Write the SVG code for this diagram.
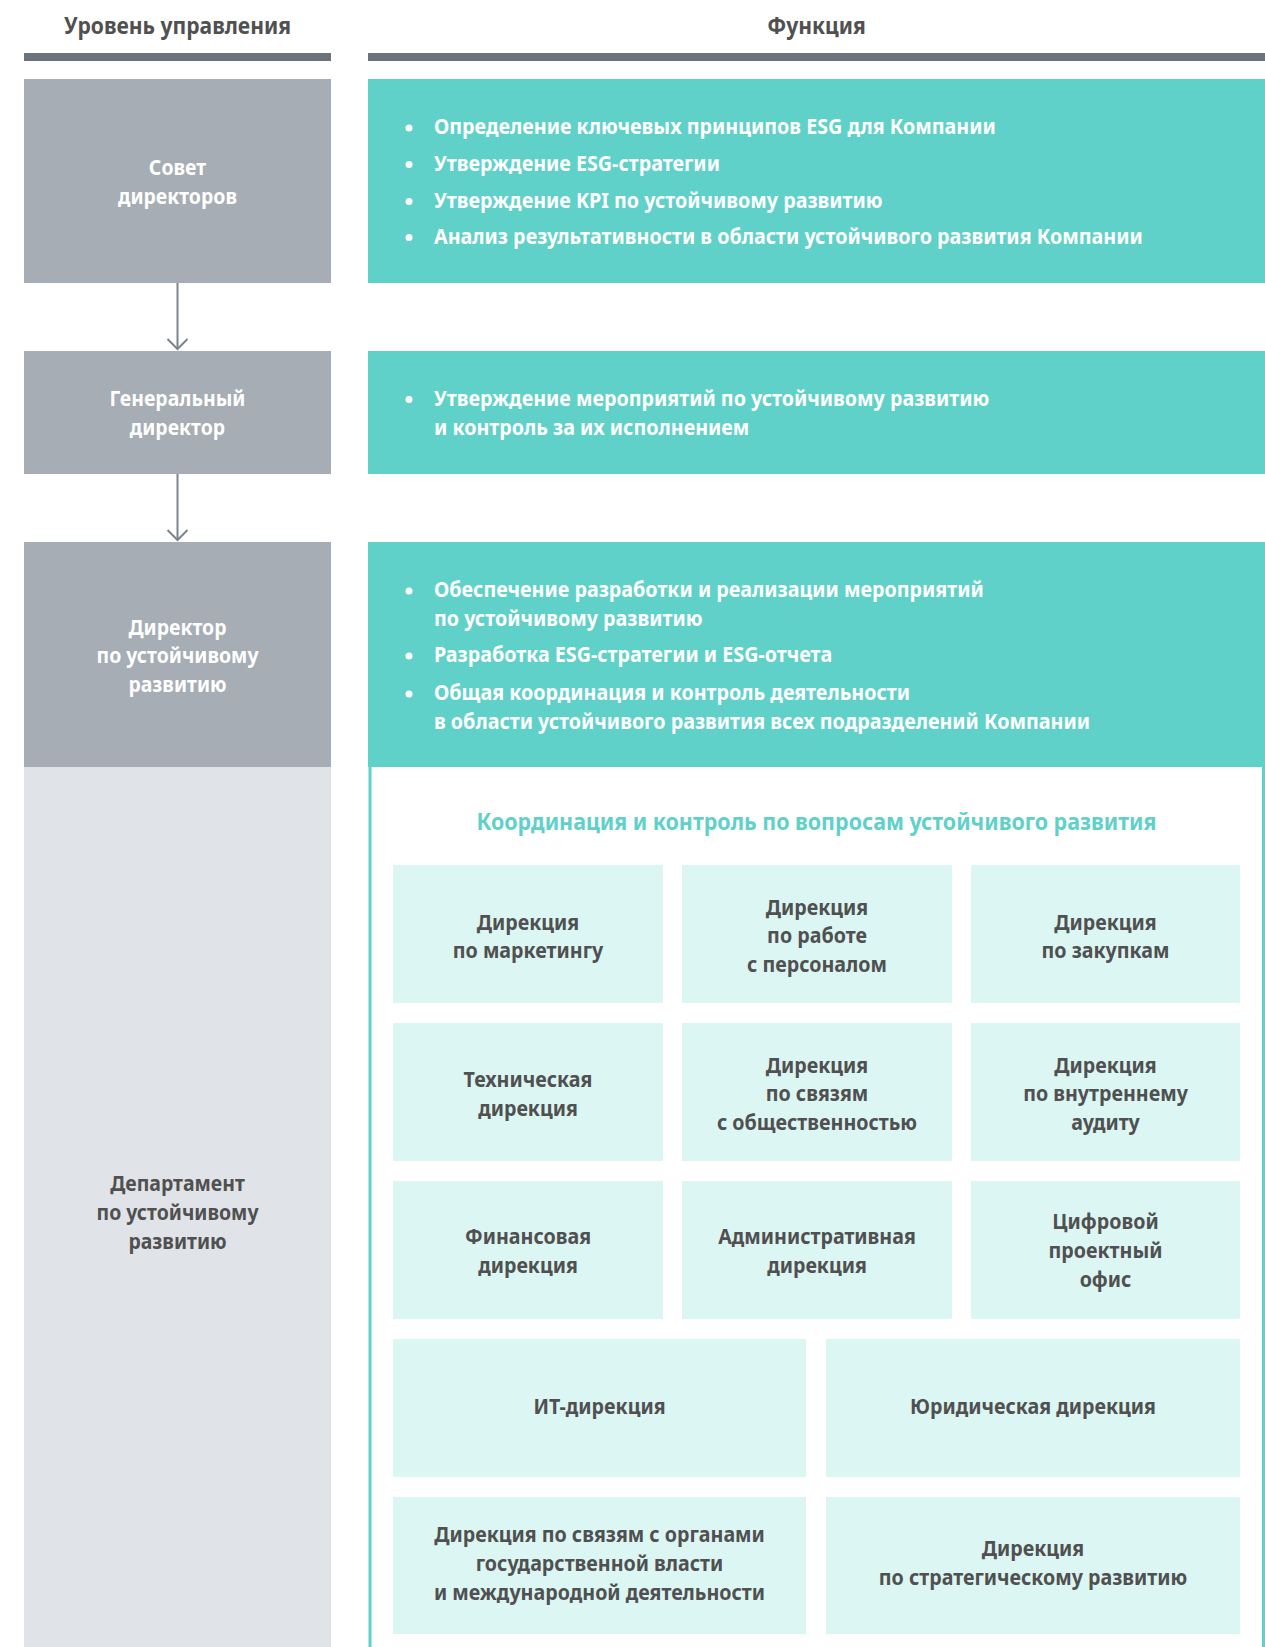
<svg xmlns="http://www.w3.org/2000/svg" width="1265" height="1647" viewBox="0 0 1265 1647">
<defs>
<style>
text{font-family:"Noto Sans","Open Sans",sans-serif;font-weight:700}
.hd{font-size:23px;fill:#505050;text-anchor:middle}
.bar{fill:#6b737c}
.lvl{fill:#a6adb4}
.fn{fill:#5fd1c9}
.lt{font-size:20.5px;fill:#ffffff;text-anchor:middle}
.ld{font-size:20.5px;fill:#505050;text-anchor:middle}
.bl{font-size:22px;fill:#ffffff}
.dot{fill:#ffffff}
.sub{fill:#dcf6f3}
.st{font-size:21px;fill:#505050;text-anchor:middle}
.sh{font-size:23px;fill:#5fd1c9;text-anchor:middle}
.arr{stroke:#7b848c;stroke-width:2;fill:none}
</style>
<marker id="ah" markerWidth="14" markerHeight="24" refX="11" refY="11" orient="auto" markerUnits="userSpaceOnUse" viewBox="0 0 14 24">
<path d="M1,1 L11,11 L1,21" fill="none" stroke="#7b848c" stroke-width="2"/>
</marker>
</defs>
<rect width="1265" height="1647" fill="#ffffff"/>

<g id="header">
<rect class="bar" x="24" y="53" width="307" height="8"/>
<rect class="bar" x="368" y="53" width="897" height="8"/>
<g transform="translate(177.5 0) scale(0.917 1)"><text class="hd" x="0" y="34.5">Уровень управления</text></g>
<g transform="translate(816.5 0) scale(0.917 1)"><text class="hd" x="0" y="34.5">Функция</text></g>
</g>

<g id="level-board">
<rect class="lvl" x="24" y="79" width="307" height="204"/>
<g transform="translate(177.5 0) scale(0.95 1)">
<text class="lt" x="0" y="175">Совет</text>
<text class="lt" x="0" y="204">директоров</text>
</g>
</g>
<g id="func-board">
<rect class="fn" x="368" y="79" width="897" height="204"/>
<circle class="dot" cx="409" cy="128" r="3.5"/>
<circle class="dot" cx="409" cy="164.5" r="3.5"/>
<circle class="dot" cx="409" cy="201.5" r="3.5"/>
<circle class="dot" cx="409" cy="237.5" r="3.5"/>
<g transform="translate(434 0) scale(0.896 1)">
<text class="bl" x="0" y="134.5">Определение ключевых принципов ESG для Компании</text>
<text class="bl" x="0" y="171">Утверждение ESG-стратегии</text>
<text class="bl" x="0" y="208">Утверждение KPI по устойчивому развитию</text>
<text class="bl" x="0" y="244">Анализ результативности в области устойчивого развития Компании</text>
</g>
</g>

<g id="level-ceo">
<rect class="lvl" x="24" y="351" width="307" height="123"/>
<g transform="translate(177.5 0) scale(0.95 1)">
<text class="lt" x="0" y="406">Генеральный</text>
<text class="lt" x="0" y="435">директор</text>
</g>
</g>
<g id="func-ceo">
<rect class="fn" x="368" y="351" width="897" height="123"/>
<circle class="dot" cx="409" cy="399.5" r="3.5"/>
<g transform="translate(434 0) scale(0.896 1)">
<text class="bl" x="0" y="406">Утверждение мероприятий по устойчивому развитию</text>
<text class="bl" x="0" y="435">и контроль за их исполнением</text>
</g>
</g>

<g id="level-director">
<rect class="lvl" x="24" y="542" width="307" height="225"/>
<g transform="translate(177.5 0) scale(0.95 1)">
<text class="lt" x="0" y="635">Директор</text>
<text class="lt" x="0" y="663.5">по устойчивому</text>
<text class="lt" x="0" y="692">развитию</text>
</g>
</g>
<g id="func-director">
<rect class="fn" x="368" y="542" width="897" height="225"/>
<circle class="dot" cx="409" cy="591" r="3.5"/>
<circle class="dot" cx="409" cy="656" r="3.5"/>
<circle class="dot" cx="409" cy="694" r="3.5"/>
<g transform="translate(434 0) scale(0.896 1)">
<text class="bl" x="0" y="597.5">Обеспечение разработки и реализации мероприятий</text>
<text class="bl" x="0" y="626">по устойчивому развитию</text>
<text class="bl" x="0" y="662.5">Разработка ESG-стратегии и ESG-отчета</text>
<text class="bl" x="0" y="700.5">Общая координация и контроль деятельности</text>
<text class="bl" x="0" y="729">в области устойчивого развития всех подразделений Компании</text>
</g>
</g>

<g id="level-department">
<rect x="24" y="767" width="307" height="880" fill="#e0e3e7"/>
<g transform="translate(177.5 0) scale(0.95 1)">
<text class="ld" x="0" y="1191">Департамент</text>
<text class="ld" x="0" y="1220">по устойчивому</text>
<text class="ld" x="0" y="1249">развитию</text>
</g>
</g>

<g id="func-department">
<rect x="370" y="767" width="893.5" height="880" fill="#ffffff"/>
<line x1="370" y1="767" x2="370" y2="1647" stroke="#5fd1c9" stroke-width="3"/>
<line x1="1263.5" y1="767" x2="1263.5" y2="1647" stroke="#5fd1c9" stroke-width="3"/>
<g transform="translate(816.5 0) scale(0.932 1)"><text class="sh" x="0" y="830">Координация и контроль по вопросам устойчивого развития</text></g>
</g>

<g id="dir-marketing">
<rect class="sub" x="393" y="865" width="270" height="138"/>
<g transform="translate(528 0) scale(0.937 1)">
<text class="st" x="0" y="930">Дирекция</text>
<text class="st" x="0" y="958.5">по маркетингу</text>
</g>
</g>
<g id="dir-hr">
<rect class="sub" x="682" y="865" width="270" height="138"/>
<g transform="translate(817 0) scale(0.937 1)">
<text class="st" x="0" y="915">Дирекция</text>
<text class="st" x="0" y="943.5">по работе</text>
<text class="st" x="0" y="972">с персоналом</text>
</g>
</g>
<g id="dir-procurement">
<rect class="sub" x="971" y="865" width="269" height="138"/>
<g transform="translate(1105.5 0) scale(0.937 1)">
<text class="st" x="0" y="930">Дирекция</text>
<text class="st" x="0" y="958.5">по закупкам</text>
</g>
</g>

<g id="dir-technical">
<rect class="sub" x="393" y="1023" width="270" height="138"/>
<g transform="translate(528 0) scale(0.937 1)">
<text class="st" x="0" y="1087.5">Техническая</text>
<text class="st" x="0" y="1116">дирекция</text>
</g>
</g>
<g id="dir-pr">
<rect class="sub" x="682" y="1023" width="270" height="138"/>
<g transform="translate(817 0) scale(0.937 1)">
<text class="st" x="0" y="1073">Дирекция</text>
<text class="st" x="0" y="1101.5">по связям</text>
<text class="st" x="0" y="1130">с общественностью</text>
</g>
</g>
<g id="dir-audit">
<rect class="sub" x="971" y="1023" width="269" height="138"/>
<g transform="translate(1105.5 0) scale(0.937 1)">
<text class="st" x="0" y="1073">Дирекция</text>
<text class="st" x="0" y="1101.5">по внутреннему</text>
<text class="st" x="0" y="1130">аудиту</text>
</g>
</g>

<g id="dir-finance">
<rect class="sub" x="393" y="1181" width="270" height="138"/>
<g transform="translate(528 0) scale(0.937 1)">
<text class="st" x="0" y="1244.5">Финансовая</text>
<text class="st" x="0" y="1273">дирекция</text>
</g>
</g>
<g id="dir-admin">
<rect class="sub" x="682" y="1181" width="270" height="138"/>
<g transform="translate(817 0) scale(0.937 1)">
<text class="st" x="0" y="1244.5">Административная</text>
<text class="st" x="0" y="1273">дирекция</text>
</g>
</g>
<g id="dir-digital">
<rect class="sub" x="971" y="1181" width="269" height="138"/>
<g transform="translate(1105.5 0) scale(0.937 1)">
<text class="st" x="0" y="1229.5">Цифровой</text>
<text class="st" x="0" y="1258.5">проектный</text>
<text class="st" x="0" y="1287">офис</text>
</g>
</g>

<g id="dir-it">
<rect class="sub" x="393" y="1339" width="413" height="138"/>
<g transform="translate(599.5 0) scale(0.937 1)">
<text class="st" x="0" y="1414">ИТ-дирекция</text>
</g>
</g>
<g id="dir-legal">
<rect class="sub" x="826" y="1339" width="414" height="138"/>
<g transform="translate(1033 0) scale(0.937 1)">
<text class="st" x="0" y="1414">Юридическая дирекция</text>
</g>
</g>

<g id="dir-gr">
<rect class="sub" x="393" y="1497" width="413" height="137"/>
<g transform="translate(599.5 0) scale(0.937 1)">
<text class="st" x="0" y="1542">Дирекция по связям с органами</text>
<text class="st" x="0" y="1571">государственной власти</text>
<text class="st" x="0" y="1600">и международной деятельности</text>
</g>
</g>
<g id="dir-strategy">
<rect class="sub" x="826" y="1497" width="414" height="137"/>
<g transform="translate(1033 0) scale(0.937 1)">
<text class="st" x="0" y="1556.5">Дирекция</text>
<text class="st" x="0" y="1585">по стратегическому развитию</text>
</g>
</g>

<g id="connectors">
<line class="arr" x1="177.5" y1="283" x2="177.5" y2="349" marker-end="url(#ah)"/>
<line class="arr" x1="177.5" y1="474" x2="177.5" y2="540" marker-end="url(#ah)"/>
</g>
</svg>
